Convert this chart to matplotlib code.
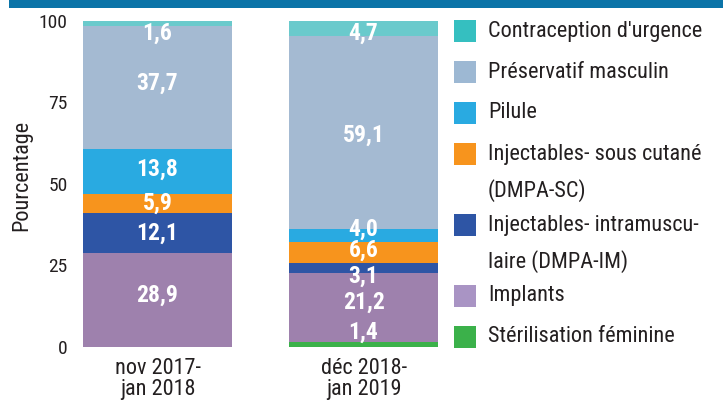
import matplotlib.pyplot as plt
from matplotlib.patches import Rectangle

# data, bottom of the stack first
methods = ["Stérilisation féminine", "Implants", "Injectables- intramuscu-\nlaire (DMPA-IM)",
           "Injectables- sous cutané\n(DMPA-SC)", "Pilule", "Préservatif masculin",
           "Contraception d'urgence"]
periods = ["nov 2017-\njan 2018", "déc 2018-\njan 2019"]
period1 = [0, 28.9, 12.1, 5.9, 13.8, 37.7, 1.6]
period2 = [1.4, 21.2, 3.1, 6.6, 4.0, 59.1, 4.7]
colors = ["#3bb14a", "#9e81ad", "#2e55a5", "#f7941d", "#29aae1", "#a4bad2", "#6acacc"]
legend_colors = ["#3bb14a", "#a994c4", "#2e55a5", "#f7941d", "#29aae1", "#9db8d3", "#35bfc0"]

# small vertical nudges of the value labels (pixels, + = down)
nudge1 = [0, -5, 0, 0, -2, -4, 10]
nudge2 = [-12, -6, 8, -2, -6, 3, 5]

plt.rcParams['font.family'] = ['Roboto Condensed', 'DejaVu Sans']
plt.rcParams['font.stretch'] = 'condensed'
W, H = 723, 401
fig = plt.figure(figsize=(W / 100, H / 100), dpi=100)

def px(x, y):
    return x / W, 1 - y / H

# axes placed in pixels: left 54.5, right 446, top 21, bottom 347
l, t = px(54.5, 21)
r, b = px(446, 347)
ax = fig.add_axes([l, b, r - l, t - b])

x = [0, 1]
series = [period1, period2]
bottoms = [0, 0]
for k, m in enumerate(methods):
    vals = [s[k] for s in series]
    ax.bar(x, vals, width=0.72, bottom=bottoms, color=colors[k], linewidth=0)
    for j in range(2):
        if vals[j] > 0:
            nud = [nudge1, nudge2][j][k]
            ax.annotate(f"{vals[j]:.1f}".replace('.', ','), (x[j], bottoms[j] + vals[j] / 2),
                        xytext=(0, -nud * 0.72), textcoords='offset points',
                        ha='center', va='center', color='white', fontsize=17,
                        fontweight='bold')
    bottoms = [bottoms[j] + vals[j] for j in range(2)]

ax.set_xlim(-0.5, 1.4)
ax.set_ylim(0, 100)
ax.set_yticks([0, 25, 50, 75, 100])
ax.set_xticks(x)
ax.set_xticklabels(periods, linespacing=1.0)
ax.tick_params(length=0, colors='#231f20')
# y labels end a little inside the axes box (bars start further right)
ax.tick_params(axis='y', labelsize=14, pad=-9.5)
ax.tick_params(axis='x', labelsize=16, pad=8)
for s in ax.spines.values():
    s.set_visible(False)

fig.text(*px(22, 175), "Pourcentage", rotation=90, ha='center', va='center',
         fontsize=16, color='#231f20')

# header strip
fig.add_artist(Rectangle(px(9, 8), 1, 8 / H, transform=fig.transFigure,
                         color='#0b74a8', lw=0))

# legend, top row first
y = 31
for k in range(len(methods) - 1, -1, -1):
    fig.add_artist(Rectangle(px(454, y + 11), 22 / W, 22 / H, transform=fig.transFigure,
                             color=legend_colors[k], lw=0))
    lines = methods[k].split("\n")
    for n, line in enumerate(lines):
        fig.text(*px(488, y + n * 37), line, ha='left', va='center', fontsize=16,
                 color='#231f20')
    y += 41 + 30 * (len(lines) - 1)

fig.savefig("out.png", dpi=100)
